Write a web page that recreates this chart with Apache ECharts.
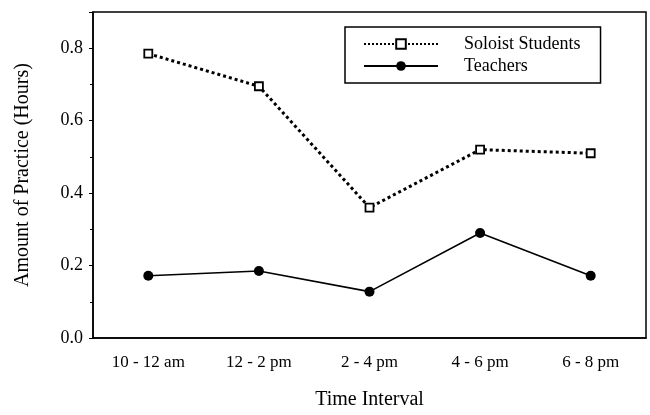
<!DOCTYPE html>
<html>
<head>
<meta charset="utf-8">
<script src="https://cdn.jsdelivr.net/npm/echarts@6/dist/echarts.min.js"></script>
<style>
  html, body { margin: 0; padding: 0; background: #fff; }
  #chart { width: 650px; height: 415px; }
</style>
</head>
<body>
<div id="chart"></div>
<script>
// time slots along the x axis
const timeSlots = ['10 - 12 am', '12 - 2 pm', '2 - 4 pm', '4 - 6 pm', '6 - 8 pm'];
// hours of practice
const soloistStudents = [0.785, 0.695, 0.36, 0.52, 0.51];
const teachers = [0.172, 0.185, 0.128, 0.29, 0.172];

const serif = 'Liberation Serif';
const chart = echarts.init(document.getElementById('chart'));

const option = {
  backgroundColor: '#fff',
  animation: false,
  grid: {
    left: 93, right: 4, top: 12, bottom: 74,
    show: true, borderColor: '#000', borderWidth: 1.5
  },
  legend: {
    orient: 'vertical',
    left: 345, top: 27,
    padding: [8, 20, 8, 18],
    itemGap: 4,
    itemWidth: 74,
    itemHeight: 12,
    borderColor: '#000',
    borderWidth: 1.5,
    textStyle: { fontFamily: serif, fontSize: 18, color: '#000', padding: [0, 0, 0, 21] },
    data: ['Soloist Students', 'Teachers']
  },
  xAxis: {
    type: 'category',
    data: timeSlots,
    boundaryGap: true,
    name: 'Time Interval',
    nameLocation: 'middle',
    nameGap: 52,
    nameTextStyle: { fontFamily: serif, fontSize: 20, color: '#000' },
    axisLine: { lineStyle: { color: '#000', width: 1.5 } },
    axisTick: { alignWithLabel: true, length: 4, lineStyle: { color: '#000' } },
    axisLabel: { fontFamily: serif, fontSize: 17, color: '#000', margin: 16 },
    splitLine: { show: false }
  },
  yAxis: {
    type: 'value',
    min: 0, max: 0.9, interval: 0.2,
    name: 'Amount of Practice (Hours)',
    nameLocation: 'middle',
    nameGap: 60,
    nameTextStyle: { fontFamily: serif, fontSize: 20, color: '#000' },
    axisLine: { show: true, lineStyle: { color: '#000', width: 1.5 } },
    axisTick: { show: true, length: 4, lineStyle: { color: '#000' } },
    minorTick: { show: true, splitNumber: 2, length: 3, lineStyle: { color: '#000' } },
    axisLabel: {
      fontFamily: serif, fontSize: 18, color: '#000', margin: 10,
      showMaxLabel: false,
      formatter: v => v.toFixed(1)
    },
    splitLine: { show: false }
  },
  series: [
    {
      name: 'Soloist Students',
      type: 'line',
      data: soloistStudents,
      symbol: 'rect',
      symbolSize: 8,
      lineStyle: { color: '#000', width: 3, type: 'dotted' },
      itemStyle: { color: '#fff', borderColor: '#000', borderWidth: 1.8 },
      z: 3
    },
    {
      name: 'Teachers',
      type: 'line',
      data: teachers,
      symbol: 'circle',
      symbolSize: 10,
      lineStyle: { color: '#000', width: 1.6 },
      itemStyle: { color: '#000', borderColor: '#000', borderWidth: 0 }
    }
  ]
};
chart.setOption(option);
</script>
</body>
</html>
